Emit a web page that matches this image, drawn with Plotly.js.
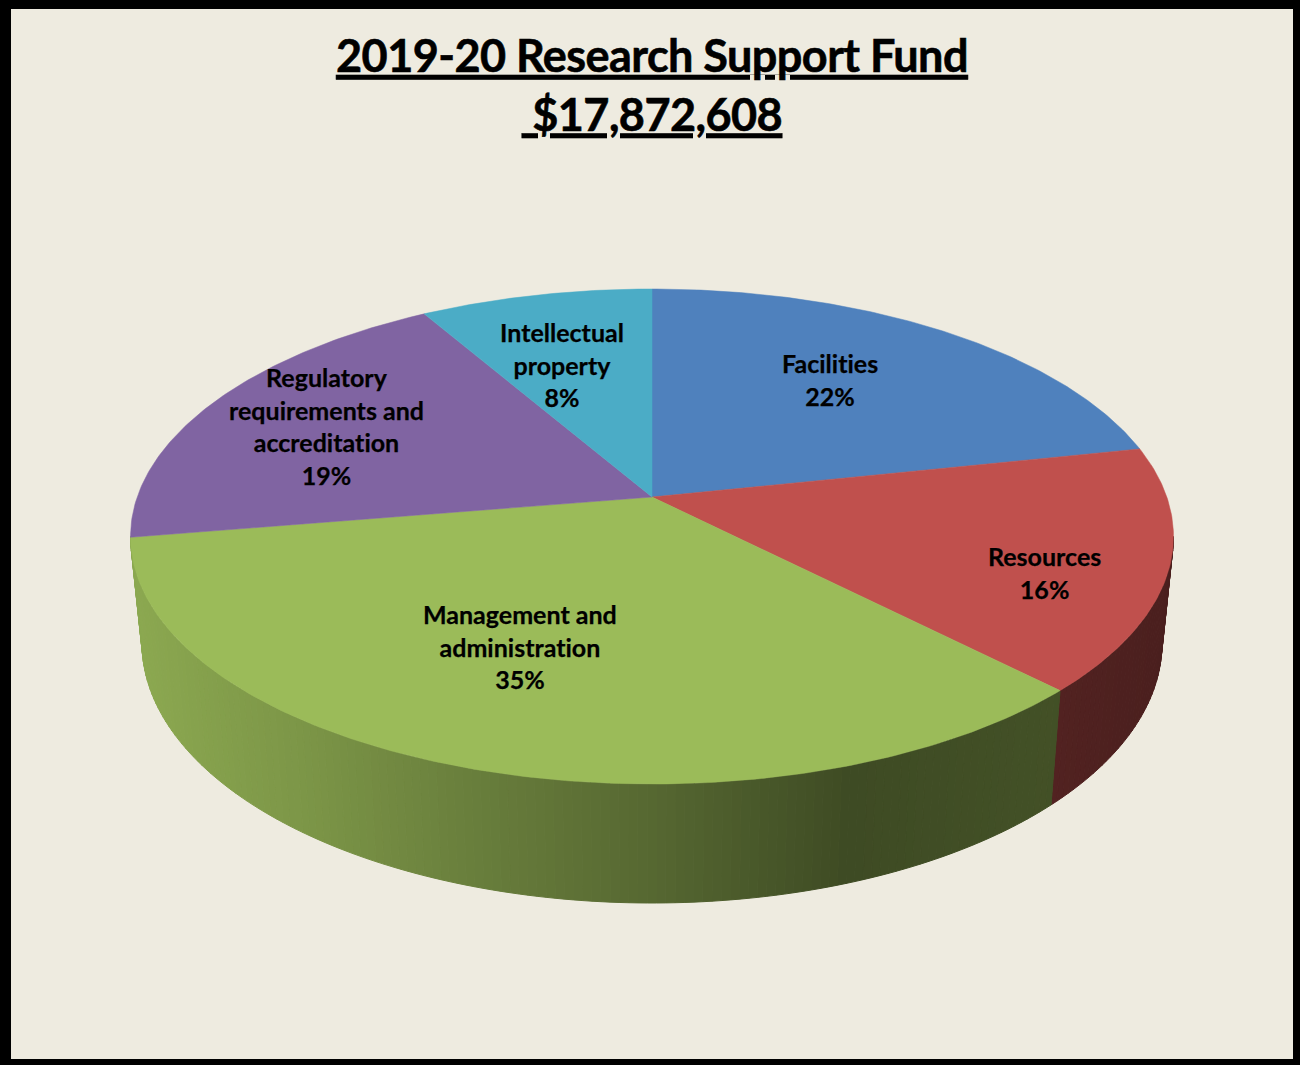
<!DOCTYPE html>
<html>
<head>
<meta charset="utf-8">
<title>2019-20 Research Support Fund</title>
<script src="https://cdn.plot.ly/plotly-3.0.1.min.js"></script>
<style>
html,body{margin:0;padding:0;background:#000}
#chart{width:1300px;height:1065px}
svg text,svg tspan{font-variant-ligatures:none !important;font-feature-settings:"liga" 0,"clig" 0 !important;letter-spacing:.01px;text-decoration-skip-ink:none}
.annotation-text{stroke:#000;stroke-width:.25px}
svg text.gtitle,svg text.gtitle tspan{stroke:#000;stroke-width:.6px;letter-spacing:-.55px}
</style>
</head>
<body>
<div id="chart"></div>
<script>
// ---- data ----
const categories = ["Facilities", "Resources", "Management and<br>administration", "Regulatory<br>requirements and<br>accreditation", "Intellectual<br>property"];
const shares = [21.7, 15.9, 34.8, 19.2, 8.4];
const percentLabels = [22, 16, 35, 19, 8];
const sliceColors = ["#4f81bd", "#c0504d", "#9bbb59", "#8064a2", "#4bacc6"];
const chartTitle = "2019-20 Research Support Fund";
const chartTotal = "$17,872,608";

// ---- view geometry of the tilted disc ----
const apex = {x: 652, y: 497};
const persp = 0.1596, spanX = 514.8, spanY = 241.2;
const topRim = {cx: 652, cy: 536.5, rx: 521.5, ry: 247.5};
const lowRim = {cx: 652, cy: 643, rx: 510, ry: 260};
const labelAt = [[830, 379], [1044, 572], [520, 646], [326, 426], [562, 364]];
const shadeStops = [[130, .90], [300, .80], [450, .69], [650, .555], [850, .40], [1050, .43], [1173, .385]];
const wallSnap = 0.06;

function project(a) {               // a = clockwise angle from the back of the disc, radians
  const u = Math.sin(a), v = Math.cos(a), w = 1 + persp * v;
  return [apex.x + spanX * u / w, apex.y - spanY * v / w];
}
function rimParam(a) {              // matching parameter on the fitted rim ellipse
  const p = project(a);
  let t = Math.atan2((p[0] - topRim.cx) / topRim.rx, (topRim.cy - p[1]) / topRim.ry);
  if (t < 0) t += 2 * Math.PI;
  return t;
}
function onRim(r, t) { return [r.cx + r.rx * Math.sin(t), r.cy - r.ry * Math.cos(t)]; }
function shadeAt(x) {
  for (let i = 1; i < shadeStops.length; i++) {
    if (x <= shadeStops[i][0]) {
      const s0 = shadeStops[i - 1], s1 = shadeStops[i];
      return s0[1] + (s1[1] - s0[1]) * (x - s0[0]) / (s1[0] - s0[0]);
    }
  }
  return shadeStops[shadeStops.length - 1][1];
}
function tint(hex, f) {
  const n = parseInt(hex.slice(1), 16);
  return `rgb(${Math.round((n >> 16) * f)},${Math.round(((n >> 8) & 255) * f)},${Math.round((n & 255) * f)})`;
}

const total = shares.reduce((s, v) => s + v, 0);
const wallTraces = [], topTraces = [];
let acc = 0;
shares.forEach((v, i) => {
  const a0 = acc / total * 2 * Math.PI, a1 = (acc + v) / total * 2 * Math.PI;
  acc += v;
  // top face
  const xs = [apex.x], ys = [apex.y];
  const n = Math.max(8, Math.ceil((a1 - a0) * 90));
  for (let k = 0; k <= n; k++) {
    const p = project(a0 + (a1 - a0) * k / n);
    xs.push(p[0]); ys.push(p[1]);
  }
  xs.push(apex.x); ys.push(apex.y);
  topTraces.push({type: "scatter", mode: "lines", x: xs, y: ys, fill: "toself", fillcolor: sliceColors[i],
    line: {color: sliceColors[i], width: 0.5}, name: categories[i].replace(/<br>/g, " "), hoverinfo: "name", showlegend: false});
  // visible front wall (a sliver at the silhouette goes to the slice beside it)
  const t0 = Math.max(rimParam(a0), Math.PI / 2);
  let t1 = Math.min(a1 >= 2 * Math.PI - 1e-9 ? 2 * Math.PI : rimParam(a1), 3 * Math.PI / 2);
  if (3 * Math.PI / 2 - t1 < wallSnap) t1 = 3 * Math.PI / 2;
  if (t1 - t0 > wallSnap) {
    const strips = Math.ceil((t1 - t0) * 55);
    for (let k = 0; k < strips; k++) {
      const ta = t0 + (t1 - t0) * k / strips, tb = t0 + (t1 - t0) * (k + 1) / strips;
      const A = onRim(topRim, ta), B = onRim(topRim, tb), C = onRim(lowRim, tb), D = onRim(lowRim, ta);
      const col = tint(sliceColors[i], shadeAt((A[0] + B[0]) / 2));
      wallTraces.push({type: "scatter", mode: "lines", x: [A[0], B[0], C[0], D[0], A[0]], y: [A[1], B[1], C[1], D[1], A[1]],
        fill: "toself", fillcolor: col, line: {color: col, width: 1}, hoverinfo: "skip", showlegend: false});
    }
  }
});

const annotations = categories.map((c, i) => ({
  x: labelAt[i][0], y: labelAt[i][1], xref: "x", yref: "y", showarrow: false, align: "center",
  text: `<b>${c}<br>${percentLabels[i]}%</b>`,
  font: {family: "Lato, sans-serif", size: 25, color: "#000"}
}));

const layout = {
  width: 1300, height: 1065,
  margin: {l: 11, r: 7, t: 9, b: 6, pad: 0},
  paper_bgcolor: "#000000", plot_bgcolor: "#eeebe0",
  showlegend: false,
  title: {
    text: `<b><u>${chartTitle}</u><br><u>\u00a0${chartTotal}</u></b>`,
    x: 652 / 1300, xanchor: "center", y: 1 - 72 / 1065, yanchor: "top", xref: "container", yref: "container",
    font: {family: "Lato, sans-serif", size: 45, color: "#000"}
  },
  xaxis: {range: [11, 1293], visible: false, fixedrange: true},
  yaxis: {range: [1059, 9], visible: false, fixedrange: true},
  annotations
};
Plotly.newPlot("chart", wallTraces.concat(topTraces), layout, {displayModeBar: false, staticPlot: true});
</script>
</body>
</html>
